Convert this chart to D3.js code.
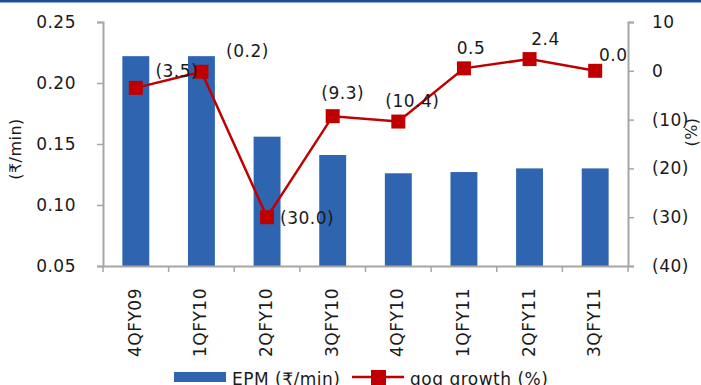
<!DOCTYPE html>
<html lang="en">
  <head>
    <meta charset="utf-8" />
    <title>EPM and qoq growth</title>
    <script type="text/javascript" src="https://cdn.jsdelivr.net/npm/d3@7"></script>
    <style type="text/css">
      body { margin: 0; background: #fff; }
      text { font-family: "DejaVu Sans", sans-serif; fill: #1a1a1a; letter-spacing: 0.5px; }
    </style>
  </head>

  <body>
    <script type="text/javascript">
      const quarters = ["4QFY09", "1QFY10", "2QFY10", "3QFY10", "4QFY10", "1QFY11", "2QFY11", "3QFY11"];
      const epm = [0.222, 0.222, 0.156, 0.141, 0.126, 0.127, 0.130, 0.130];
      const qoqGrowth = [-3.5, -0.2, -30.0, -9.3, -10.4, 0.5, 2.4, 0.0];
      const leftTicks = [0.05, 0.10, 0.15, 0.20, 0.25];
      const rightTicks = [-40, -30, -20, -10, 0, 10];

      // where excel put the data labels (offset from the point)
      const labelShift = [[41, -17], [46, -21], [40, 1], [10, -23], [14, -21], [7, -20], [16, -20], [18, -16]];

      const width = 701, height = 385;
      const plotL = 103, plotR = 628, plotT = 22, plotB = 266;
      const fs = "17px";

      const svg = d3.select("body").append("svg")
        .attr("width", width)
        .attr("height", height);

      // blue rule across the top
      svg.append("rect").attr("x", 0).attr("y", 0).attr("width", width).attr("height", 2.5).attr("fill", "#1f4e9e");

      const x = d3.scaleBand().domain(quarters).range([plotL, plotR])
        .paddingInner(0.59).paddingOuter(0.295);
      const yL = d3.scaleLinear().domain([0.05, 0.25]).range([plotB, plotT]);
      const yR = d3.scaleLinear().domain([-40, 10]).range([plotB, plotT]);

      const fmtR = function (d) {
        return d < 0 ? "(" + Math.abs(d) + ")" : String(d);
      };
      const fmtLabel = function (d) {
        const s = Math.abs(d).toFixed(1);
        return d < 0 ? "(" + s + ")" : s;
      };

      // bars
      svg.selectAll("rect.bar")
        .data(epm)
        .enter()
        .append("rect")
        .attr("class", "bar")
        .attr("x", function (d, i) { return x(quarters[i]); })
        .attr("width", x.bandwidth())
        .attr("y", function (d) { return yL(d); })
        .attr("height", function (d) { return plotB - yL(d); })
        .attr("fill", "#2e64b0");

      // axes
      const axisL = svg.append("g").attr("transform", "translate(" + plotL + ",0)")
        .call(d3.axisLeft(yL).tickValues(leftTicks).tickFormat(d3.format(".2f")).tickSize(6).tickPadding(21));
      const axisR = svg.append("g").attr("transform", "translate(" + plotR + ",0)")
        .call(d3.axisRight(yR).tickValues(rightTicks).tickFormat(fmtR).tickSize(6).tickPadding(18));
      const axisB = svg.append("g").attr("transform", "translate(0," + plotB + ")")
        .call(d3.axisBottom(x).tickSize(0).tickFormat(""));

      [axisL, axisR, axisB].forEach(function (g) {
        g.select(".domain").attr("stroke", "#a6a6a6").attr("stroke-width", 2);
        g.selectAll(".tick line").attr("stroke", "#a6a6a6").attr("stroke-width", 1.5);
        g.selectAll(".tick text").style("font-size", fs).attr("fill", "#1a1a1a");
      });

      // category boundary ticks on the x axis
      const step = x.step();
      svg.selectAll("line.xtick")
        .data(d3.range(quarters.length + 1))
        .enter()
        .append("line")
        .attr("x1", function (i) { return plotL + i * step; })
        .attr("x2", function (i) { return plotL + i * step; })
        .attr("y1", plotB)
        .attr("y2", plotB + 6)
        .attr("stroke", "#a6a6a6")
        .attr("stroke-width", 1.5);

      // rotated category labels
      svg.selectAll("text.cat")
        .data(quarters)
        .enter()
        .append("text")
        .attr("class", "cat")
        .attr("transform", function (d) {
          return "translate(" + (x(d) + x.bandwidth() / 2 + 5) + "," + 288 + ") rotate(-90)";
        })
        .attr("text-anchor", "end")
        .style("font-size", fs)
        .text(function (d) { return d; });

      // axis titles
      svg.append("text")
        .attr("transform", "translate(21,149) rotate(-90)")
        .attr("text-anchor", "middle")
        .style("font-size", "16px")
        .text("(₹/min)");
      svg.append("text")
        .attr("transform", "translate(697,132) rotate(-90)")
        .attr("text-anchor", "middle")
        .style("font-size", "16px")
        .text("(%)");

      // growth line
      const cx = function (i) { return x(quarters[i]) + x.bandwidth() / 2; };
      const line = d3.line()
        .x(function (d, i) { return cx(i); })
        .y(function (d) { return yR(d); });

      svg.append("path")
        .datum(qoqGrowth)
        .attr("d", line)
        .attr("fill", "none")
        .attr("stroke", "#c00000")
        .attr("stroke-width", 2.5);

      svg.selectAll("rect.mark")
        .data(qoqGrowth)
        .enter()
        .append("rect")
        .attr("class", "mark")
        .attr("x", function (d, i) { return cx(i) - 7; })
        .attr("y", function (d) { return yR(d) - 7; })
        .attr("width", 14)
        .attr("height", 14)
        .attr("fill", "#c00000");

      svg.selectAll("text.lbl")
        .data(qoqGrowth)
        .enter()
        .append("text")
        .attr("class", "lbl")
        .attr("x", function (d, i) { return cx(i) + labelShift[i][0]; })
        .attr("y", function (d, i) { return yR(d) + labelShift[i][1]; })
        .attr("dy", "0.36em")
        .attr("text-anchor", "middle")
        .style("font-size", fs)
        .text(fmtLabel);

      // legend
      const leg = svg.append("g");
      leg.append("rect").attr("x", 174).attr("y", 372).attr("width", 52).attr("height", 10).attr("fill", "#2e64b0");
      leg.append("text").attr("x", 232).attr("y", 385).style("font-size", fs).text("EPM (₹/min)");
      leg.append("line").attr("x1", 352).attr("x2", 404).attr("y1", 377).attr("y2", 377)
        .attr("stroke", "#c00000").attr("stroke-width", 2.5);
      leg.append("rect").attr("x", 371).attr("y", 370).attr("width", 15).attr("height", 15).attr("fill", "#c00000");
      leg.append("text").attr("x", 410).attr("y", 385).style("font-size", fs).text("qoq growth (%)");
    </script>
  </body>
</html>
